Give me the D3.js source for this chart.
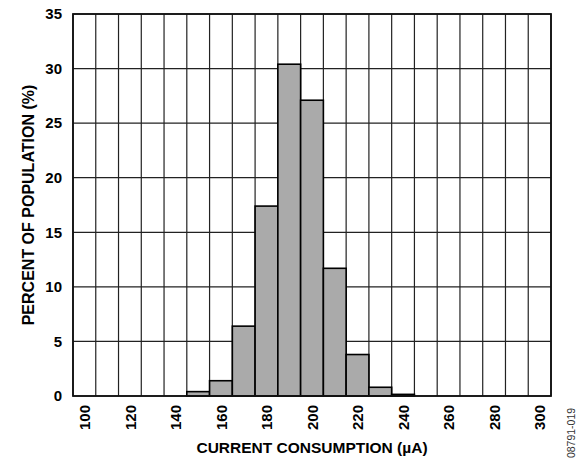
<!DOCTYPE html>
<html>
<head>
<meta charset="utf-8">
<script src="https://cdn.jsdelivr.net/npm/d3@7"></script>
<style>
  html, body { margin: 0; padding: 0; background: #fff; }
  svg { display: block; }
  text { font-family: Arial, "Liberation Sans", sans-serif; }
</style>
</head>
<body>
<script>
// Bin centers (µA) and percent of population
const binCenters = [100,110,120,130,140,150,160,170,180,190,200,210,220,230,240,250,260,270,280,290,300];
const percents   = [0,0,0,0,0,0.4,1.4,6.4,17.4,30.4,27.1,11.7,3.8,0.8,0.15,0,0,0,0,0,0];
const xTickLabels = [100,120,140,160,180,200,220,240,260,280,300];
const yTickLabels = [0,5,10,15,20,25,30,35];
const binWidth = 10;

const W = 587, H = 460;
const margin = { left: 73, right: W - 551, top: 14, bottom: H - 396 };
const iw = W - margin.left - margin.right;
const ih = H - margin.top - margin.bottom;
const FONT = "Arial, 'Liberation Sans', sans-serif";

const svg = d3.select("body").append("svg").attr("width", W).attr("height", H);
const g = svg.append("g").attr("transform", `translate(${margin.left},${margin.top})`);

const x = d3.scaleLinear().domain([95, 305]).range([0, iw]);
const y = d3.scaleLinear().domain([0, 35]).range([ih, 0]);

g.append("rect").attr("width", iw).attr("height", ih).attr("fill", "#fff");

// vertical gridlines at bin edges
const edges = d3.range(95, 306, 10);
g.append("g").selectAll("line").data(edges).join("line")
  .attr("x1", d => x(d)).attr("x2", d => x(d))
  .attr("y1", 0).attr("y2", ih)
  .attr("stroke", "#222").attr("stroke-width", 1.2);

// horizontal gridlines
g.append("g").selectAll("line").data(yTickLabels).join("line")
  .attr("x1", 0).attr("x2", iw)
  .attr("y1", d => y(d)).attr("y2", d => y(d))
  .attr("stroke", "#222").attr("stroke-width", 1.2);

// bars
const data = binCenters.map((c, i) => ({ c, v: percents[i] })).filter(d => d.v > 0);
g.append("g").selectAll("rect").data(data).join("rect")
  .attr("x", d => x(d.c - binWidth / 2))
  .attr("width", d => x(d.c + binWidth / 2) - x(d.c - binWidth / 2))
  .attr("y", d => y(d.v))
  .attr("height", d => y(0) - y(d.v))
  .attr("fill", "#aaaaaa")
  .attr("stroke", "#000")
  .attr("stroke-width", 1.6);

// frame
g.append("rect").attr("width", iw).attr("height", ih)
  .attr("fill", "none").attr("stroke", "#111").attr("stroke-width", 1.8);

// y axis labels
const yAxis = d3.axisLeft(y).tickValues(yTickLabels).tickSize(0).tickPadding(11);
const ya = g.append("g").call(yAxis);
ya.select(".domain").remove();
ya.selectAll("text").attr("font-size", 15).attr("font-weight", "bold").attr("fill", "#000")
  .attr("font-family", FONT);

// x axis labels (rotated)
const xAxis = d3.axisBottom(x).tickValues(xTickLabels).tickSize(0).tickFormat(d3.format("d"));
const xa = g.append("g").attr("transform", `translate(0,${ih})`).call(xAxis);
xa.select(".domain").remove();
xa.selectAll("text")
  .attr("font-size", 15).attr("font-weight", "bold").attr("fill", "#000")
  .attr("font-family", FONT)
  .attr("transform", "rotate(-90)")
  .attr("text-anchor", "end")
  .attr("x", -9).attr("y", 0).attr("dy", "0.35em");

// axis titles
svg.append("text")
  .attr("x", margin.left + iw / 2).attr("y", 453)
  .attr("text-anchor", "middle")
  .attr("font-size", 15.5).attr("font-weight", "bold")
  .text("CURRENT CONSUMPTION (µA)");

svg.append("text")
  .attr("transform", `translate(34,205) rotate(-90)`)
  .attr("text-anchor", "middle")
  .attr("font-size", 16).attr("font-weight", "bold")
  .text("PERCENT OF POPULATION (%)");

svg.append("text")
  .attr("transform", `translate(575,433) rotate(-90)`)
  .attr("text-anchor", "middle")
  .attr("font-size", 10.5).attr("fill", "#333")
  .text("08791-019");
</script>
</body>
</html>
